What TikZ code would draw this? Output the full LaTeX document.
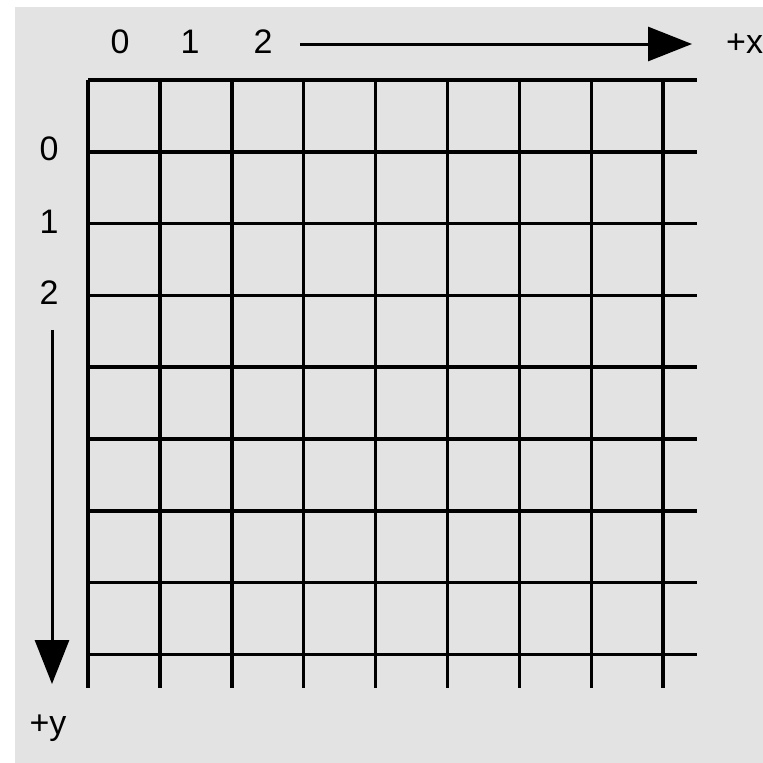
\documentclass[tikz,border=0pt]{standalone}
\usepackage{fontspec}
\setmainfont{Liberation Sans}
\usetikzlibrary{arrows.meta}
\definecolor{panelgray}{RGB}{227,227,227}

\begin{document}
\begin{tikzpicture}[x=1pt, y=-1pt, line cap=butt, >={Triangle[length=44pt,width=34pt]},
    gridline/.style={line width=3.5pt},
    axisline/.style={line width=3pt},
    lbl/.style={font=\fontsize{34}{34}\selectfont, inner sep=0pt, anchor=base}]
    \useasboundingbox (0,0) rectangle (763,763);
    \fill[panelgray] (15,7) rectangle (763,763);

    % grid
    \foreach \i in {0,...,8} {
        \draw[gridline] (88+71.9*\i,80) -- (88+71.9*\i,688);
        \draw[gridline] (88,80+71.8*\i) -- (697,80+71.8*\i);
    }

    % x axis
    \node[lbl] (x0) at (120,53) {0};
    \node[lbl] (x1) at (190,53) {1};
    \node[lbl] (x2) at (263,53) {2};
    \node[lbl, anchor=base west] (xlab) at (726,53) {+x};
    \coordinate (xa) at (300,44);
    \coordinate (xb) at (692,44);
    \draw[axisline,->] (xa) -- (xb);

    % y axis
    \node[lbl] (y0) at (49,160) {0};
    \node[lbl] (y1) at (49,233) {1};
    \node[lbl] (y2) at (49,304) {2};
    \node[lbl] (ylab) at (48,734) {+y};
    \coordinate (ya) at (52,330);
    \coordinate (yb) at (52,684);
    \draw[axisline,->] (ya) -- (yb);
\end{tikzpicture}
\end{document}
